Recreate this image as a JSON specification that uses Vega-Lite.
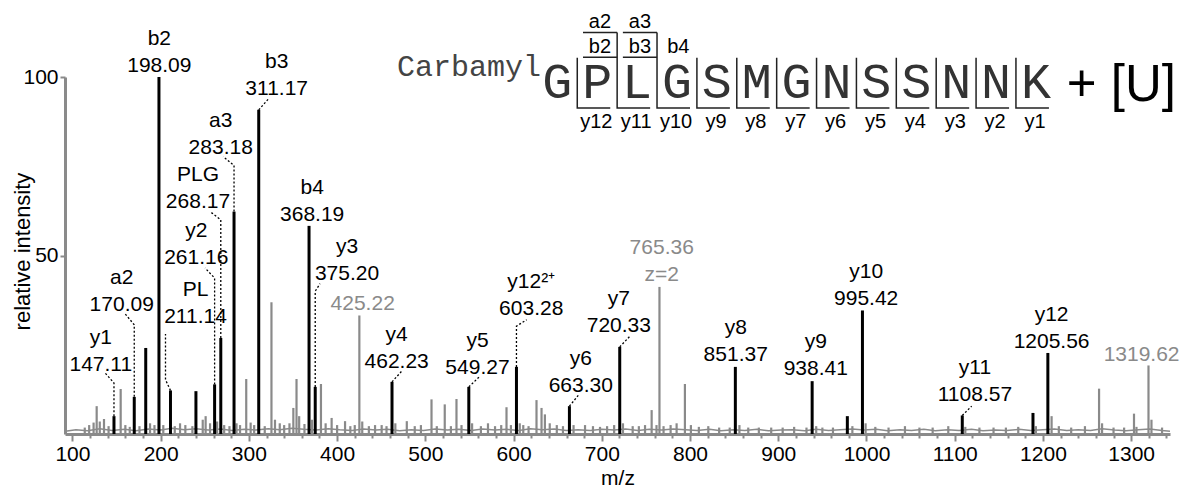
{
  "$schema": "https://vega.github.io/schema/vega-lite/v6.json",
  "width": 1105,
  "height": 357,
  "autosize": {"type": "none"},
  "padding": {"left": 65, "top": 77, "right": 12, "bottom": 54},
  "background": "white",
  "config": {"view": {"stroke": null}, "font": "Liberation Sans"},
  "datasets": {
    "noise": [
      {"mz": 92, "intensity": 0.8}, {"mz": 104, "intensity": 1.2}, {"mz": 117, "intensity": 0.9}, {"mz": 131, "intensity": 1.5},
      {"mz": 145, "intensity": 1.0}, {"mz": 159, "intensity": 1.3}, {"mz": 172, "intensity": 0.9}, {"mz": 186, "intensity": 1.4},
      {"mz": 200, "intensity": 1.1}, {"mz": 213, "intensity": 1.6}, {"mz": 227, "intensity": 1.2}, {"mz": 240, "intensity": 1.5},
      {"mz": 254, "intensity": 1.1}, {"mz": 268, "intensity": 1.4}, {"mz": 281, "intensity": 1.0}, {"mz": 295, "intensity": 1.3},
      {"mz": 308, "intensity": 1.1}, {"mz": 322, "intensity": 1.5}, {"mz": 335, "intensity": 1.2}, {"mz": 349, "intensity": 1.6},
      {"mz": 362, "intensity": 1.3}, {"mz": 376, "intensity": 1.1}, {"mz": 390, "intensity": 1.5}, {"mz": 403, "intensity": 1.2},
      {"mz": 417, "intensity": 1.0}, {"mz": 430, "intensity": 1.4}, {"mz": 444, "intensity": 1.1}, {"mz": 457, "intensity": 1.3},
      {"mz": 471, "intensity": 0.9}, {"mz": 484, "intensity": 1.2}, {"mz": 498, "intensity": 1.0}, {"mz": 511, "intensity": 1.4},
      {"mz": 525, "intensity": 1.1}, {"mz": 538, "intensity": 1.3}, {"mz": 552, "intensity": 1.0}, {"mz": 565, "intensity": 1.4},
      {"mz": 579, "intensity": 1.1}, {"mz": 592, "intensity": 1.3}, {"mz": 606, "intensity": 1.0}, {"mz": 619, "intensity": 1.5},
      {"mz": 633, "intensity": 1.2}, {"mz": 646, "intensity": 1.4}, {"mz": 660, "intensity": 1.0}, {"mz": 673, "intensity": 1.2},
      {"mz": 687, "intensity": 1.0}, {"mz": 700, "intensity": 1.3}, {"mz": 714, "intensity": 1.1}, {"mz": 727, "intensity": 1.4},
      {"mz": 741, "intensity": 1.0}, {"mz": 754, "intensity": 1.3}, {"mz": 768, "intensity": 1.1}, {"mz": 781, "intensity": 1.4},
      {"mz": 795, "intensity": 1.2}, {"mz": 808, "intensity": 1.0}, {"mz": 822, "intensity": 1.3}, {"mz": 835, "intensity": 0.9},
      {"mz": 849, "intensity": 1.2}, {"mz": 862, "intensity": 1.0}, {"mz": 876, "intensity": 1.3}, {"mz": 889, "intensity": 0.9},
      {"mz": 903, "intensity": 1.1}, {"mz": 916, "intensity": 1.2}, {"mz": 930, "intensity": 0.9}, {"mz": 943, "intensity": 1.3},
      {"mz": 957, "intensity": 1.0}, {"mz": 970, "intensity": 1.2}, {"mz": 984, "intensity": 1.4}, {"mz": 997, "intensity": 1.1},
      {"mz": 1011, "intensity": 1.3}, {"mz": 1024, "intensity": 0.9}, {"mz": 1038, "intensity": 1.2}, {"mz": 1051, "intensity": 1.0},
      {"mz": 1065, "intensity": 1.3}, {"mz": 1078, "intensity": 0.9}, {"mz": 1092, "intensity": 1.2}, {"mz": 1105, "intensity": 1.0},
      {"mz": 1119, "intensity": 1.3}, {"mz": 1132, "intensity": 0.9}, {"mz": 1146, "intensity": 1.1}, {"mz": 1159, "intensity": 1.0},
      {"mz": 1173, "intensity": 1.3}, {"mz": 1186, "intensity": 1.0}, {"mz": 1200, "intensity": 1.2}, {"mz": 1213, "intensity": 1.4},
      {"mz": 1227, "intensity": 1.0}, {"mz": 1240, "intensity": 1.2}, {"mz": 1254, "intensity": 1.0}, {"mz": 1267, "intensity": 1.5},
      {"mz": 1281, "intensity": 1.1}, {"mz": 1294, "intensity": 0.9}, {"mz": 1308, "intensity": 1.2}, {"mz": 1321, "intensity": 1.4},
      {"mz": 1335, "intensity": 1.0}, {"mz": 1344, "intensity": 0.8}
    ],
    "gray": [
      {"mz": 114, "intensity": 1.8}, {"mz": 119, "intensity": 2.5}, {"mz": 124, "intensity": 3.2}, {"mz": 127.5, "intensity": 7.8},
      {"mz": 131, "intensity": 3.5}, {"mz": 135.8, "intensity": 4.2}, {"mz": 141, "intensity": 2.2}, {"mz": 154.7, "intensity": 12.6},
      {"mz": 160, "intensity": 2.5}, {"mz": 165, "intensity": 2.0}, {"mz": 176, "intensity": 2.2}, {"mz": 188, "intensity": 3.0},
      {"mz": 193, "intensity": 2.5}, {"mz": 203, "intensity": 2.5}, {"mz": 216, "intensity": 2.2}, {"mz": 222, "intensity": 3.0},
      {"mz": 228, "intensity": 2.5}, {"mz": 236, "intensity": 2.2}, {"mz": 247.7, "intensity": 4.0}, {"mz": 251, "intensity": 5.0},
      {"mz": 256, "intensity": 3.0}, {"mz": 264, "intensity": 3.5}, {"mz": 272, "intensity": 2.5}, {"mz": 278, "intensity": 2.2},
      {"mz": 286, "intensity": 3.0}, {"mz": 290, "intensity": 2.5}, {"mz": 297, "intensity": 15.4}, {"mz": 302, "intensity": 3.2},
      {"mz": 306, "intensity": 2.5}, {"mz": 318, "intensity": 2.2}, {"mz": 325.6, "intensity": 36.9}, {"mz": 329.6, "intensity": 4.0},
      {"mz": 335, "intensity": 3.0}, {"mz": 340, "intensity": 2.5}, {"mz": 346, "intensity": 3.0}, {"mz": 350.4, "intensity": 7.3},
      {"mz": 354, "intensity": 15.4}, {"mz": 357, "intensity": 5.0}, {"mz": 363, "intensity": 2.8}, {"mz": 371.5, "intensity": 4.0},
      {"mz": 381.7, "intensity": 14.0}, {"mz": 387, "intensity": 3.0}, {"mz": 393.8, "intensity": 4.5}, {"mz": 400, "intensity": 2.5},
      {"mz": 409, "intensity": 3.6}, {"mz": 415, "intensity": 2.2}, {"mz": 420, "intensity": 2.5}, {"mz": 425.22, "intensity": 33.2},
      {"mz": 428.5, "intensity": 3.5}, {"mz": 436, "intensity": 2.2}, {"mz": 443, "intensity": 2.5}, {"mz": 450.5, "intensity": 2.5},
      {"mz": 456, "intensity": 2.2}, {"mz": 466, "intensity": 3.0}, {"mz": 479, "intensity": 3.6}, {"mz": 488, "intensity": 2.2},
      {"mz": 495, "intensity": 2.5}, {"mz": 507, "intensity": 9.7}, {"mz": 513, "intensity": 2.2}, {"mz": 522, "intensity": 8.3},
      {"mz": 529, "intensity": 2.2}, {"mz": 535.3, "intensity": 9.8}, {"mz": 541, "intensity": 2.5}, {"mz": 553, "intensity": 3.0},
      {"mz": 563, "intensity": 2.2}, {"mz": 571, "intensity": 3.0}, {"mz": 579, "intensity": 2.2}, {"mz": 586, "intensity": 2.5},
      {"mz": 592, "intensity": 7.5}, {"mz": 597, "intensity": 2.5}, {"mz": 607, "intensity": 3.0}, {"mz": 611, "intensity": 2.5},
      {"mz": 617, "intensity": 2.2}, {"mz": 626, "intensity": 9.5}, {"mz": 631.7, "intensity": 7.3}, {"mz": 635.5, "intensity": 5.5},
      {"mz": 641, "intensity": 3.0}, {"mz": 649, "intensity": 2.5}, {"mz": 656, "intensity": 2.2}, {"mz": 668, "intensity": 2.5},
      {"mz": 681, "intensity": 2.5}, {"mz": 690, "intensity": 2.2}, {"mz": 698, "intensity": 2.0}, {"mz": 706, "intensity": 2.2},
      {"mz": 714, "intensity": 2.5}, {"mz": 724, "intensity": 3.0}, {"mz": 735, "intensity": 2.2}, {"mz": 742, "intensity": 2.2},
      {"mz": 749, "intensity": 2.5}, {"mz": 756.5, "intensity": 6.7}, {"mz": 762, "intensity": 2.5}, {"mz": 765.36, "intensity": 41.2},
      {"mz": 770, "intensity": 2.2}, {"mz": 778, "intensity": 2.5}, {"mz": 784.8, "intensity": 3.0}, {"mz": 794.2, "intensity": 14.0},
      {"mz": 801, "intensity": 2.5}, {"mz": 810, "intensity": 2.0}, {"mz": 820.7, "intensity": 2.2}, {"mz": 833, "intensity": 1.8},
      {"mz": 845, "intensity": 1.8}, {"mz": 856, "intensity": 2.5}, {"mz": 866, "intensity": 1.8}, {"mz": 878, "intensity": 1.8},
      {"mz": 892, "intensity": 1.8}, {"mz": 905, "intensity": 1.8}, {"mz": 918, "intensity": 2.0}, {"mz": 932, "intensity": 1.8},
      {"mz": 943, "intensity": 2.2}, {"mz": 950, "intensity": 1.8}, {"mz": 962, "intensity": 1.8}, {"mz": 984, "intensity": 2.2},
      {"mz": 999, "intensity": 3.0}, {"mz": 1010, "intensity": 2.0}, {"mz": 1025, "intensity": 1.8}, {"mz": 1043.6, "intensity": 2.2},
      {"mz": 1060, "intensity": 1.8}, {"mz": 1075, "intensity": 1.8}, {"mz": 1092.7, "intensity": 2.2}, {"mz": 1112, "intensity": 2.0},
      {"mz": 1128, "intensity": 1.8}, {"mz": 1144, "intensity": 1.8}, {"mz": 1158, "intensity": 1.8}, {"mz": 1172, "intensity": 2.0},
      {"mz": 1192, "intensity": 2.2}, {"mz": 1209.8, "intensity": 5.0}, {"mz": 1218, "intensity": 2.2}, {"mz": 1232, "intensity": 1.8},
      {"mz": 1247.6, "intensity": 2.2}, {"mz": 1263.6, "intensity": 12.7}, {"mz": 1267, "intensity": 3.0}, {"mz": 1280, "intensity": 1.8},
      {"mz": 1292, "intensity": 1.8}, {"mz": 1303.2, "intensity": 5.7}, {"mz": 1306, "intensity": 2.0}, {"mz": 1319.62, "intensity": 19.2},
      {"mz": 1323, "intensity": 4.0}, {"mz": 1335, "intensity": 1.8}
    ],
    "ions": [
      {"mz": 147.11, "intensity": 5.0}, {"mz": 170.09, "intensity": 10.4}, {"mz": 183.1, "intensity": 24.1},
      {"mz": 198.09, "intensity": 100}, {"mz": 211.14, "intensity": 12.2}, {"mz": 240.0, "intensity": 12.0},
      {"mz": 261.16, "intensity": 13.9}, {"mz": 268.17, "intensity": 26.9}, {"mz": 283.18, "intensity": 62.3},
      {"mz": 311.17, "intensity": 90.8}, {"mz": 368.19, "intensity": 58.3}, {"mz": 375.20, "intensity": 13.2},
      {"mz": 462.23, "intensity": 14.6}, {"mz": 549.27, "intensity": 13.2}, {"mz": 603.28, "intensity": 18.8},
      {"mz": 663.30, "intensity": 7.8}, {"mz": 720.33, "intensity": 24.4}, {"mz": 851.37, "intensity": 18.8},
      {"mz": 938.41, "intensity": 14.8}, {"mz": 978.3, "intensity": 5.0}, {"mz": 995.42, "intensity": 34.6},
      {"mz": 1108.57, "intensity": 5.2}, {"mz": 1188.7, "intensity": 5.9}, {"mz": 1205.56, "intensity": 22.7}
    ],
    "leaders": [
      {"ion": "y1", "step": 1, "mz": 147.11, "intensity": 5.0}, {"ion": "y1", "step": 2, "mz": 147.11, "intensity": 14.3}, {"ion": "y1", "step": 3, "mz": 137.0, "intensity": 17.1},
      {"ion": "a2", "step": 1, "mz": 170.09, "intensity": 10.4}, {"ion": "a2", "step": 2, "mz": 170.09, "intensity": 30.6}, {"ion": "a2", "step": 3, "mz": 159.6, "intensity": 33.7},
      {"ion": "PL", "step": 1, "mz": 211.14, "intensity": 12.2}, {"ion": "PL", "step": 2, "mz": 205.5, "intensity": 15.2}, {"ion": "PL", "step": 3, "mz": 205.5, "intensity": 28.0},
      {"ion": "y2", "step": 1, "mz": 261.16, "intensity": 13.9}, {"ion": "y2", "step": 2, "mz": 261.16, "intensity": 43.7}, {"ion": "y2", "step": 3, "mz": 250.3, "intensity": 46.5},
      {"ion": "PLG", "step": 1, "mz": 268.17, "intensity": 26.9}, {"ion": "PLG", "step": 2, "mz": 268.17, "intensity": 60.0}, {"ion": "PLG", "step": 3, "mz": 256.0, "intensity": 62.3},
      {"ion": "a3", "step": 1, "mz": 283.18, "intensity": 62.3}, {"ion": "a3", "step": 2, "mz": 283.18, "intensity": 75.2}, {"ion": "a3", "step": 3, "mz": 271.0, "intensity": 77.7},
      {"ion": "b3", "step": 1, "mz": 311.17, "intensity": 90.8}, {"ion": "b3", "step": 2, "mz": 322.0, "intensity": 93.8},
      {"ion": "y3", "step": 1, "mz": 375.20, "intensity": 13.2}, {"ion": "y3", "step": 2, "mz": 375.20, "intensity": 40.0}, {"ion": "y3", "step": 3, "mz": 380.6, "intensity": 42.1},
      {"ion": "y4", "step": 1, "mz": 462.23, "intensity": 14.6}, {"ion": "y4", "step": 2, "mz": 473.2, "intensity": 17.6},
      {"ion": "y5", "step": 1, "mz": 549.27, "intensity": 13.2}, {"ion": "y5", "step": 2, "mz": 562.0, "intensity": 16.2},
      {"ion": "y12", "step": 1, "mz": 603.28, "intensity": 18.8}, {"ion": "y12", "step": 2, "mz": 603.28, "intensity": 30.2}, {"ion": "y12", "step": 3, "mz": 614.8, "intensity": 32.0},
      {"ion": "y6", "step": 1, "mz": 663.30, "intensity": 7.8}, {"ion": "y6", "step": 2, "mz": 673.3, "intensity": 10.8},
      {"ion": "y7", "step": 1, "mz": 720.33, "intensity": 24.4}, {"ion": "y7", "step": 2, "mz": 731.9, "intensity": 27.4},
      {"ion": "y11", "step": 1, "mz": 1108.57, "intensity": 5.2}, {"ion": "y11", "step": 2, "mz": 1119.2, "intensity": 7.8}
    ],
    "labels": [
      {"name": "y1", "value": "147.11", "mz": 132.2, "intensity": 17.6, "kind": "ion"},
      {"name": "a2", "value": "170.09", "mz": 155.9, "intensity": 34.4, "kind": "ion"},
      {"name": "b2", "value": "198.09", "mz": 198.5, "intensity": 101.5, "kind": "ion"},
      {"name": "PL", "value": "211.14", "mz": 239.5, "intensity": 31.1, "kind": "ion"},
      {"name": "y2", "value": "261.16", "mz": 240.4, "intensity": 47.7, "kind": "ion"},
      {"name": "PLG", "value": "268.17", "mz": 242.3, "intensity": 63.3, "kind": "ion"},
      {"name": "a3", "value": "283.18", "mz": 268.1, "intensity": 78.5, "kind": "ion"},
      {"name": "b3", "value": "311.17", "mz": 331.5, "intensity": 95.0, "kind": "ion"},
      {"name": "b4", "value": "368.19", "mz": 371.7, "intensity": 59.7, "kind": "ion"},
      {"name": "y3", "value": "375.20", "mz": 411.2, "intensity": 43.2, "kind": "ion"},
      {"name": "", "value": "425.22", "mz": 429.0, "intensity": 34.6, "kind": "other"},
      {"name": "y4", "value": "462.23", "mz": 467.5, "intensity": 18.5, "kind": "ion"},
      {"name": "y5", "value": "549.27", "mz": 559.1, "intensity": 16.9, "kind": "ion"},
      {"name": "y12²⁺", "value": "603.28", "mz": 620.0, "intensity": 33.2, "kind": "ion"},
      {"name": "y6", "value": "663.30", "mz": 676.2, "intensity": 11.8, "kind": "ion"},
      {"name": "y7", "value": "720.33", "mz": 719.3, "intensity": 28.5, "kind": "ion"},
      {"name": "765.36", "value": "z=2", "mz": 767.9, "intensity": 42.8, "kind": "other"},
      {"name": "y8", "value": "851.37", "mz": 851.8, "intensity": 20.4, "kind": "ion"},
      {"name": "y9", "value": "938.41", "mz": 942.5, "intensity": 16.5, "kind": "ion"},
      {"name": "y10", "value": "995.42", "mz": 999.6, "intensity": 36.2, "kind": "ion"},
      {"name": "y11", "value": "1108.57", "mz": 1122.9, "intensity": 9.2, "kind": "ion"},
      {"name": "y12", "value": "1205.56", "mz": 1209.8, "intensity": 24.1, "kind": "ion"},
      {"name": "", "value": "1319.62", "mz": 1311.8, "intensity": 20.4, "kind": "other"}
    ],
    "residues": [
      {"aa": "G", "mz": 649.6, "intensity": 94.1}, {"aa": "P", "mz": 694.8, "intensity": 94.1},
      {"aa": "L", "mz": 740.0, "intensity": 94.1}, {"aa": "G", "mz": 785.2, "intensity": 94.1},
      {"aa": "S", "mz": 830.4, "intensity": 94.1}, {"aa": "M", "mz": 875.6, "intensity": 94.1},
      {"aa": "G", "mz": 920.8, "intensity": 94.1}, {"aa": "N", "mz": 966.0, "intensity": 94.1},
      {"aa": "S", "mz": 1011.2, "intensity": 94.1}, {"aa": "S", "mz": 1056.4, "intensity": 94.1},
      {"aa": "N", "mz": 1101.6, "intensity": 94.1}, {"aa": "N", "mz": 1146.8, "intensity": 94.1},
      {"aa": "K", "mz": 1192.0, "intensity": 94.1}
    ],
    "fragNames": [
      {"t": "a2", "mz": 697.9, "intensity": 113.6}, {"t": "b2", "mz": 697.9, "intensity": 106.7},
      {"t": "a3", "mz": 743.2, "intensity": 113.6}, {"t": "b3", "mz": 743.2, "intensity": 106.7},
      {"t": "b4", "mz": 786.7, "intensity": 106.7},
      {"t": "y12", "mz": 693.8, "intensity": 85.7}, {"t": "y11", "mz": 739.0, "intensity": 85.7},
      {"t": "y10", "mz": 784.2, "intensity": 85.7}, {"t": "y9", "mz": 829.4, "intensity": 85.7},
      {"t": "y8", "mz": 874.6, "intensity": 85.7}, {"t": "y7", "mz": 919.8, "intensity": 85.7},
      {"t": "y6", "mz": 965.0, "intensity": 85.7}, {"t": "y5", "mz": 1010.2, "intensity": 85.7},
      {"t": "y4", "mz": 1055.4, "intensity": 85.7}, {"t": "y3", "mz": 1100.6, "intensity": 85.7},
      {"t": "y2", "mz": 1145.8, "intensity": 85.7}, {"t": "y1", "mz": 1191.0, "intensity": 85.7}
    ],
    "brackets": [
      {"id": "s0", "step": 1, "mz": 672.2, "intensity": 105.4}, {"id": "s0", "step": 2, "mz": 672.2, "intensity": 91.3}, {"id": "s0", "step": 3, "mz": 709.6, "intensity": 91.3},
      {"id": "s1", "step": 1, "mz": 717.4, "intensity": 112.5}, {"id": "s1", "step": 2, "mz": 717.4, "intensity": 91.3}, {"id": "s1", "step": 3, "mz": 754.8, "intensity": 91.3},
      {"id": "s2", "step": 1, "mz": 762.6, "intensity": 112.5}, {"id": "s2", "step": 2, "mz": 762.6, "intensity": 91.3}, {"id": "s2", "step": 3, "mz": 800.0, "intensity": 91.3},
      {"id": "s3", "step": 1, "mz": 807.8, "intensity": 105.4}, {"id": "s3", "step": 2, "mz": 807.8, "intensity": 91.3}, {"id": "s3", "step": 3, "mz": 845.2, "intensity": 91.3},
      {"id": "s4", "step": 1, "mz": 853.0, "intensity": 105.4}, {"id": "s4", "step": 2, "mz": 853.0, "intensity": 91.3}, {"id": "s4", "step": 3, "mz": 890.4, "intensity": 91.3},
      {"id": "s5", "step": 1, "mz": 898.2, "intensity": 105.4}, {"id": "s5", "step": 2, "mz": 898.2, "intensity": 91.3}, {"id": "s5", "step": 3, "mz": 935.6, "intensity": 91.3},
      {"id": "s6", "step": 1, "mz": 943.4, "intensity": 105.4}, {"id": "s6", "step": 2, "mz": 943.4, "intensity": 91.3}, {"id": "s6", "step": 3, "mz": 980.8, "intensity": 91.3},
      {"id": "s7", "step": 1, "mz": 988.6, "intensity": 105.4}, {"id": "s7", "step": 2, "mz": 988.6, "intensity": 91.3}, {"id": "s7", "step": 3, "mz": 1026.0, "intensity": 91.3},
      {"id": "s8", "step": 1, "mz": 1033.8, "intensity": 105.4}, {"id": "s8", "step": 2, "mz": 1033.8, "intensity": 91.3}, {"id": "s8", "step": 3, "mz": 1071.2, "intensity": 91.3},
      {"id": "s9", "step": 1, "mz": 1079.0, "intensity": 105.4}, {"id": "s9", "step": 2, "mz": 1079.0, "intensity": 91.3}, {"id": "s9", "step": 3, "mz": 1116.4, "intensity": 91.3},
      {"id": "s10", "step": 1, "mz": 1124.2, "intensity": 105.4}, {"id": "s10", "step": 2, "mz": 1124.2, "intensity": 91.3}, {"id": "s10", "step": 3, "mz": 1161.6, "intensity": 91.3},
      {"id": "s11", "step": 1, "mz": 1169.4, "intensity": 105.4}, {"id": "s11", "step": 2, "mz": 1169.4, "intensity": 91.3}, {"id": "s11", "step": 3, "mz": 1206.8, "intensity": 91.3},
      {"id": "b2", "step": 1, "mz": 678.7, "intensity": 105.5}, {"id": "b2", "step": 2, "mz": 717.4, "intensity": 105.5},
      {"id": "a2", "step": 1, "mz": 678.7, "intensity": 112.5}, {"id": "a2", "step": 2, "mz": 717.4, "intensity": 112.5},
      {"id": "b3", "step": 1, "mz": 723.9, "intensity": 105.5}, {"id": "b3", "step": 2, "mz": 762.6, "intensity": 105.5},
      {"id": "a3", "step": 1, "mz": 723.9, "intensity": 112.5}, {"id": "a3", "step": 2, "mz": 762.6, "intensity": 112.5}
    ],
    "mods": [
      {"t": "Carbamyl", "mz": 631.0, "intensity": 100.3}
    ],
    "charge": [
      {"t": "+ [U]", "mz": 1227.0, "intensity": 93.3}
    ]
  },
  "encoding": {
    "x": {
      "field": "mz", "type": "quantitative",
      "scale": {"domain": [91.6, 1344], "nice": false, "zero": false},
      "axis": {
        "title": "m/z",
        "values": [100,120,140,160,180,200,220,240,260,280,300,320,340,360,380,400,420,440,460,480,500,520,540,560,580,600,620,640,660,680,700,720,740,760,780,800,820,840,860,880,900,920,940,960,980,1000,1020,1040,1060,1080,1100,1120,1140,1160,1180,1200,1220,1240,1260,1280,1300,1320,1340],
        "format": "d",
        "labelExpr": "datum.value % 100 === 0 ? datum.label : ''",
        "tickSize": {"condition": {"test": "datum.value % 100 === 0", "value": 7}, "value": 4},
        "tickWidth": 2,
        "tickColor": "#8a8a8a",
        "domainColor": "#8a8a8a",
        "domainWidth": 3,
        "grid": false,
        "labelOverlap": false,
        "labelFont": "Liberation Sans",
        "labelFontSize": 21,
        "labelColor": "#000000",
        "labelPadding": 2,
        "titleFont": "Liberation Sans",
        "titleFontSize": 21,
        "titleFontWeight": "normal",
        "titleColor": "#000000",
        "titlePadding": 3
      }
    },
    "y": {
      "field": "intensity", "type": "quantitative",
      "scale": {"domain": [0, 100], "nice": false},
      "axis": {
        "title": "relative intensity",
        "values": [50, 100],
        "tickSize": 5,
        "tickWidth": 2,
        "tickColor": "#8a8a8a",
        "domainColor": "#8a8a8a",
        "domainWidth": 3,
        "grid": false,
        "labelFont": "Liberation Sans",
        "labelFontSize": 21,
        "labelColor": "#000000",
        "labelPadding": 2,
        "titleFont": "Liberation Sans",
        "titleFontSize": 22,
        "titleFontWeight": "normal",
        "titleColor": "#000000",
        "titleX": -31,
        "titleY": 174
      }
    }
  },
  "layer": [
    {
      "data": {"name": "noise"},
      "mark": {"type": "line", "color": "#8a8a8a", "strokeWidth": 1.5}
    },
    {
      "data": {"name": "gray"},
      "mark": {"type": "rule", "color": "#8a8a8a", "strokeWidth": 2.2},
      "encoding": {"y2": {"datum": 0}}
    },
    {
      "data": {"name": "ions"},
      "mark": {"type": "rule", "color": "#000000", "strokeWidth": 3},
      "encoding": {"y2": {"datum": 0}}
    },
    {
      "data": {"name": "leaders"},
      "mark": {"type": "line", "color": "#000000", "strokeWidth": 1.3, "strokeDash": [2, 2]},
      "encoding": {
        "detail": {"field": "ion", "type": "nominal"},
        "order": {"field": "step", "type": "quantitative"}
      }
    },
    {
      "data": {"name": "labels"},
      "mark": {"type": "text", "font": "Liberation Sans", "fontSize": 21, "align": "center", "baseline": "alphabetic"},
      "encoding": {
        "text": {"field": "value", "type": "nominal"},
        "color": {"field": "kind", "type": "nominal", "scale": {"domain": ["ion", "other"], "range": ["#000000", "#8a8a8a"]}, "legend": null}
      }
    },
    {
      "data": {"name": "labels"},
      "mark": {"type": "text", "font": "Liberation Sans", "fontSize": 21, "align": "center", "baseline": "alphabetic", "dy": -27},
      "encoding": {
        "text": {"field": "name", "type": "nominal"},
        "color": {"field": "kind", "type": "nominal", "scale": {"domain": ["ion", "other"], "range": ["#000000", "#8a8a8a"]}, "legend": null}
      }
    },
    {
      "data": {"name": "brackets"},
      "mark": {"type": "line", "color": "#222222", "strokeWidth": 1.5},
      "encoding": {
        "detail": {"field": "id", "type": "nominal"},
        "order": {"field": "step", "type": "quantitative"}
      }
    },
    {
      "data": {"name": "residues"},
      "mark": {"type": "text", "font": "Liberation Mono", "fontSize": 50, "align": "center", "baseline": "alphabetic", "color": "#333333"},
      "encoding": {"text": {"field": "aa", "type": "nominal"}}
    },
    {
      "data": {"name": "fragNames"},
      "mark": {"type": "text", "font": "Liberation Sans", "fontSize": 20, "align": "center", "baseline": "alphabetic", "color": "#000000"},
      "encoding": {"text": {"field": "t", "type": "nominal"}}
    },
    {
      "data": {"name": "mods"},
      "mark": {"type": "text", "font": "Liberation Mono", "fontSize": 30, "align": "right", "baseline": "alphabetic", "color": "#444444"},
      "encoding": {"text": {"field": "t", "type": "nominal"}}
    },
    {
      "data": {"name": "charge"},
      "mark": {"type": "text", "font": "Liberation Sans", "fontSize": 51, "align": "left", "baseline": "alphabetic", "color": "#000000"},
      "encoding": {"text": {"field": "t", "type": "nominal"}}
    }
  ]
}
